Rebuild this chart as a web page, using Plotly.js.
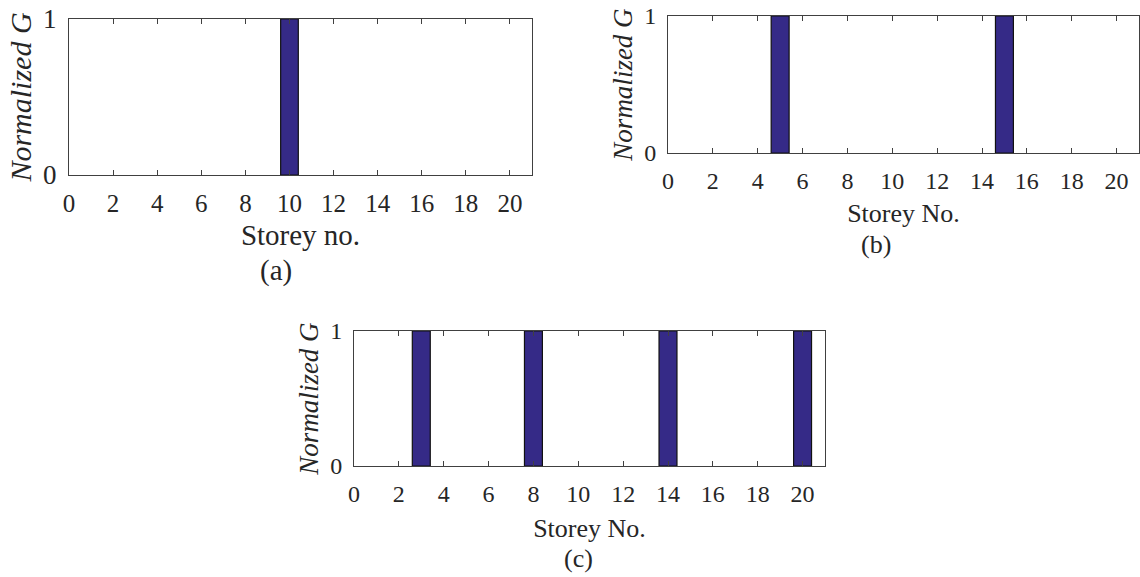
<!DOCTYPE html>
<html>
<head>
<meta charset="utf-8">
<script src="https://cdn.plot.ly/plotly-3.0.1.min.js"></script>
<style>html,body{margin:0;padding:0;background:#fff;}#chart{width:1140px;height:577px;}</style>
</head>
<body>
<div id="chart"></div>
<script>
// Storey numbers (1..20)
const storeys = [1,2,3,4,5,6,7,8,9,10,11,12,13,14,15,16,17,18,19,20];
// Normalized G per storey for each panel
const gA = [0,0,0,0,0,0,0,0,0,1,0,0,0,0,0,0,0,0,0,0];
const gB = [0,0,0,0,1,0,0,0,0,0,0,0,0,0,1,0,0,0,0,0];
const gC = [0,0,1,0,0,0,0,1,0,0,0,0,0,1,0,0,0,0,0,1];
const xTickVals = [0,2,4,6,8,10,12,14,16,18,20];
const yTickVals = [0,1];
const xTitles = ['Storey no.', 'Storey No.', 'Storey No.'];
const yTitle = '<i>Normalized G</i>';
const panelLabels = ['(a)', '(b)', '(c)'];

const W = 1140, H = 577;
const barColor = '#352A87';
const serif = '"Liberation Serif", "Times New Roman", serif';
const textColor = '#262626';

function bar(y, xa, ya) {
  return {type: 'bar', x: storeys, y: y, xaxis: xa, yaxis: ya, width: 0.8,
    marker: {color: barColor, line: {color: '#111', width: y.map(v => v > 0 ? 1.2 : 0)}},
    showlegend: false, hoverinfo: 'x+y'};
}
const data = [bar(gA, 'x', 'y'), bar(gB, 'x2', 'y2'), bar(gC, 'x3', 'y3')];

// pixel boxes [left, right, top, bottom]
const boxes = [[69, 532, 19, 175], [668, 1139, 16, 153], [354, 825, 331, 466]];
const titleSize = [29, 26, 26];
const ySize = [30, 27, 27];
const tickSize = [25, 24, 24];
const xStandoff = [8, 11, 13];
const yStandoff = [2, 3, 3];

function xax(i) {
  const b = boxes[i];
  return {domain: [b[0] / W, b[1] / W], range: [0, 21], tickmode: 'array', tickvals: xTickVals,
    ticks: 'inside', ticklen: 5, tickcolor: '#404040', showline: true, linecolor: '#404040', linewidth: 1,
    mirror: 'ticks', showgrid: false, zeroline: false, anchor: i === 0 ? 'y' : 'y' + (i + 1),
    ticklabelstandoff: 6,
    tickfont: {family: serif, size: tickSize[i], color: textColor},
    title: {text: xTitles[i], font: {family: serif, size: titleSize[i], color: textColor}, standoff: xStandoff[i]}};
}
function yax(i) {
  const b = boxes[i];
  return {domain: [1 - b[3] / H, 1 - b[2] / H], range: [0, 1], tickmode: 'array', tickvals: yTickVals,
    ticks: 'inside', ticklen: 5, tickcolor: '#404040', showline: true, linecolor: '#404040', linewidth: 1,
    mirror: 'ticks', showgrid: false, zeroline: false, anchor: i === 0 ? 'x' : 'x' + (i + 1),
    ticklabelstandoff: 6,
    tickfont: {family: serif, size: tickSize[i] + (i === 0 ? 2 : 0), color: textColor},
    title: {text: yTitle, font: {family: serif, size: ySize[i], color: textColor}, standoff: yStandoff[i]}};
}

const labelPos = [[276, 270], [876, 245], [578, 558]];
const annotations = panelLabels.map((t, i) => ({text: t, xref: 'paper', yref: 'paper',
  x: labelPos[i][0] / W, y: 1 - labelPos[i][1] / H, xanchor: 'center', yanchor: 'middle', showarrow: false,
  font: {family: serif, size: titleSize[i], color: textColor}}));

const layout = {width: W, height: H, margin: {l: 0, r: 0, t: 0, b: 0}, paper_bgcolor: '#fff', plot_bgcolor: '#fff',
  bargap: 0, annotations: annotations, font: {family: serif},
  xaxis: xax(0), yaxis: yax(0), xaxis2: xax(1), yaxis2: yax(1), xaxis3: xax(2), yaxis3: yax(2)};

Plotly.newPlot('chart', data, layout, {staticPlot: true, displayModeBar: false});
</script>
</body>
</html>
